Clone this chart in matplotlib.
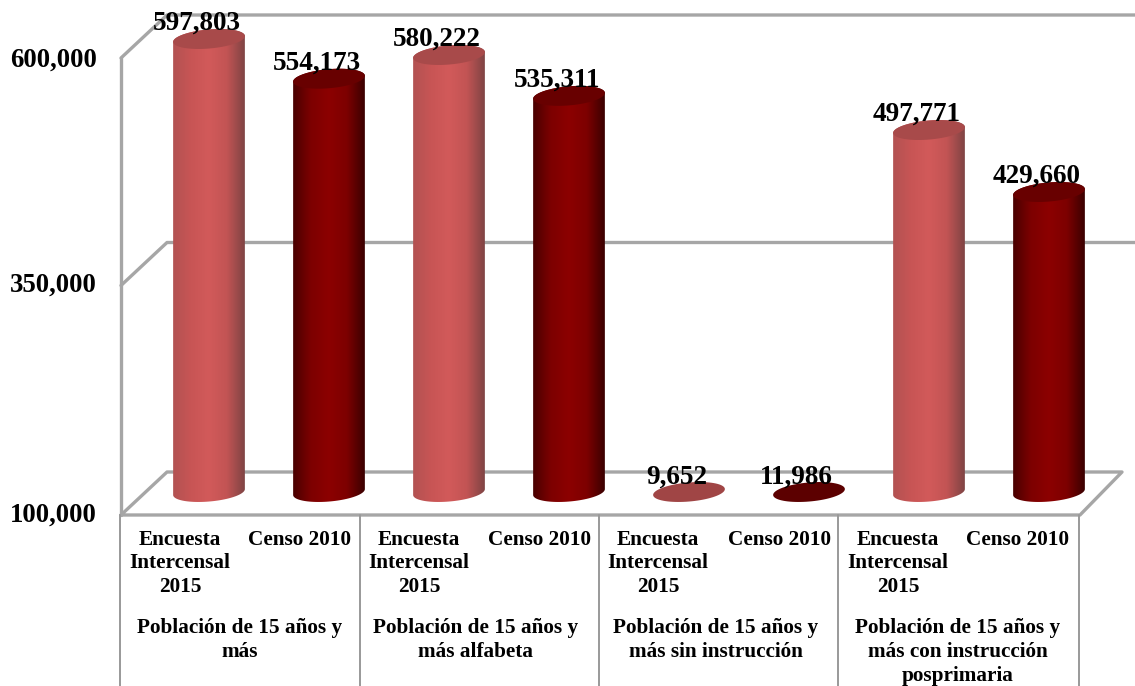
import numpy as np
import matplotlib
matplotlib.use('Agg')
import matplotlib.pyplot as plt
from matplotlib.colors import LinearSegmentedColormap
from matplotlib.patches import PathPatch
from matplotlib.path import Path
from matplotlib.transforms import Affine2D

groups = ['Población de 15 años y\nmás',
          'Población de 15 años y\nmás alfabeta',
          'Población de 15 años y\nmás sin instrucción',
          'Población de 15 años y\nmás con instrucción\nposprimaria']
series = ['Encuesta\nIntercensal\n2015', 'Censo 2010']
encuesta = [597803, 580222, 9652, 497771]
censo = [554173, 535311, 11986, 429660]
yticks = [100000, 350000, 600000]

W, H = 1135, 686
ppv = 0.00091   # pixels per person
unit = 120.0    # pixels per bar slot
y0 = 513        # pixel of 100,000 on the front wall
x0 = 180        # pixel of first bar slot

plt.rcParams['font.family'] = ['Liberation Serif', 'DejaVu Serif']
plt.rcParams['font.weight'] = 'bold'

fig = plt.figure(figsize=(W / 100, H / 100), dpi=100)
ax = fig.add_axes([0, 0, 1, 1])
ax.set_axis_off()

# pixel coordinates for the chart furniture, y going down
px = Affine2D().scale(1, -1).translate(0, H)
grey = '#a6a6a6'


def ypx(v):
    return y0 - (v - 100000) * ppv


def line(xs, ys, lw=2.4, color=grey):
    ax.plot(xs, ys, color=color, lw=lw, transform=px, solid_capstyle='round', zorder=1)


# walls and gridlines
for v in yticks[1:]:
    line([121, 167, W], [ypx(v), ypx(v) - 43, ypx(v) - 43])
line([121, 121], [ypx(600000), 515])
line([121, 167, 1122, 1080, 121], [515, 472, 472, 515, 515])
for x in [120, 360, 599, 838, 1079]:
    line([x, x], [515, H], lw=1.4, color='#999999')

light = LinearSegmentedColormap.from_list('light', ['#b25252', '#c85555', '#d25a5a', '#c25454', '#7f4444'])
dark = LinearSegmentedColormap.from_list('dark', ['#4a0000', '#7d0000', '#8c0000', '#7d0000', '#3a0000'])
grad = np.linspace(0, 1, 256).reshape(1, -1)


def outline(xc, v, t):
    # tilted ellipse of the cylinder end, in data units
    a, b, tilt = 36.0, 9.5, np.radians(5)
    ex = a * np.cos(t) * np.cos(tilt) + b * np.sin(t) * np.sin(tilt)
    ey = a * np.cos(t) * np.sin(tilt) - b * np.sin(t) * np.cos(tilt)
    return xc + (ex + 29) / unit, v + (ey + 21) / ppv


def cylinder(i, value, cmap, topcolor, smallcolor):
    base = 100000
    if value <= base:
        xs, ys = outline(i, base, np.linspace(0, 2 * np.pi, 80))
        ax.fill(xs, ys, color=smallcolor, lw=0, zorder=3)
        return base
    # lower half of the base, then upper half of the top
    xb, yb = outline(i, base, np.linspace(0, np.pi, 50))
    xt, yt = outline(i, value, np.linspace(np.pi, 2 * np.pi, 50))
    verts = np.column_stack([np.r_[xb, xt], np.r_[yb, yt]])
    im = ax.imshow(grad, cmap=cmap, aspect='auto', zorder=3, interpolation='bilinear',
                   extent=[verts[:, 0].min(), verts[:, 0].max(), verts[:, 1].min(), verts[:, 1].max()])
    im.set_clip_path(PathPatch(Path(verts), transform=ax.transData))
    xs, ys = outline(i, value, np.linspace(0, 2 * np.pi, 80))
    ax.fill(xs, ys, color=topcolor, lw=0, zorder=4)
    return value


for g in range(4):
    for s, (vals, cmap, tc, sc) in enumerate([(encuesta, light, '#a84a4a', '#a04545'),
                                              (censo, dark, '#680000', '#5c0000')]):
        i = 2 * g + s
        top = cylinder(i, vals[g], cmap, tc, sc)
        up = 36 if vals[g] <= 100000 else 37
        ax.annotate(f'{vals[g]:,}', (i, top), xytext=(12, up * 0.72),
                    textcoords='offset points', ha='center', va='center', fontsize=19.5,
                    color='black', zorder=6)

ax.set_xlim(-x0 / unit, (W - x0) / unit)
ax.set_ylim(100000 - (H - y0) / ppv, 100000 + y0 / ppv)

for v in yticks:
    ax.text(97, ypx(v) + (0 if v == 350000 else 2), f'{v:,}', transform=px, ha='right', va='center',
            fontsize=19.3, color='black')

ser_x = [[180, 300], [419, 539], [658, 779], [898, 1018]]
grp_x = [240, 476, 716, 958]
for g in range(4):
    ax.text(ser_x[g][0], 530, series[0], transform=px, ha='center', va='top', fontsize=15.3,
            linespacing=1.22, color='black')
    ax.text(ser_x[g][1], 530, series[1], transform=px, ha='center', va='top', fontsize=15.3,
            linespacing=1.22, color='black')
    ax.text(grp_x[g], 618, groups[g], transform=px, ha='center', va='top', fontsize=15.3,
            linespacing=1.25, color='black')

fig.savefig('out.png', dpi=100)
